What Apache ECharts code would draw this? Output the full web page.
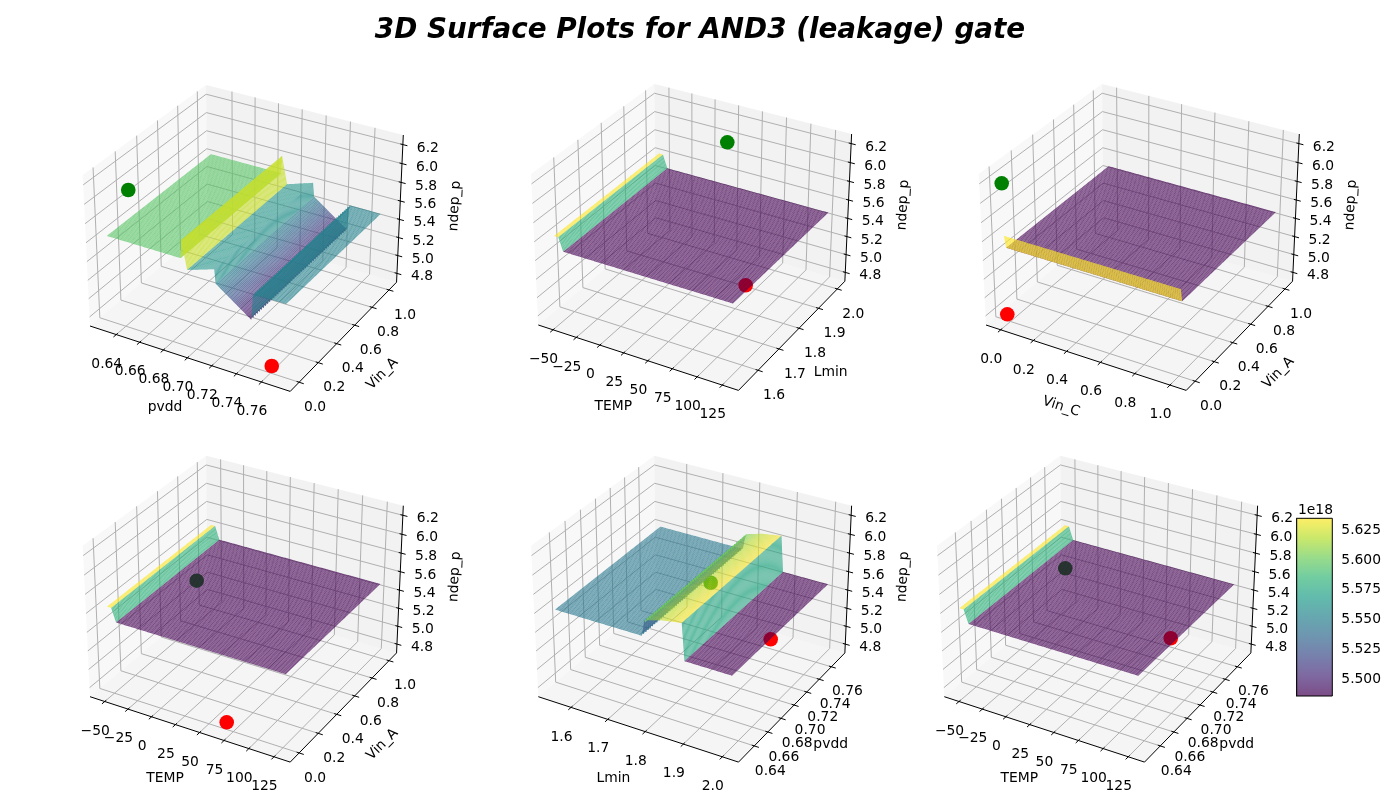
<!DOCTYPE html>
<html><head><meta charset="utf-8">
<style>html,body{margin:0;padding:0;background:#fff}#c{width:1400px;height:800px}</style>
<script src="https://cdn.jsdelivr.net/npm/echarts@6/dist/echarts.min.js"></script></head>
<body><div id="c"></div><script>
const figureTitle='3D Surface Plots for AND3 (leakage) gate';
const zLim=[4.70,6.30];
const zTicks=[4.8,5.0,5.2,5.4,5.6,5.8,6.0,6.2];
const tempLim=[-66,141], tempTicks=[-50,-25,0,25,50,75,100,125];
const tempLabels=['\u221250','\u221225','0','25','50','75','100','125'];
const pvddLim=[0.6173,0.7827], pvddTicks=[0.64,0.66,0.68,0.70,0.72,0.74,0.76];
const lminLim=[1.509,2.041], lminTicks=[1.6,1.7,1.8,1.9,2.0];
const vinLim=[-0.0914,1.0914], vinTicks=[0,0.2,0.4,0.6,0.8,1.0];
const viridis=[[68,1,84],[72,40,120],[62,74,137],[49,104,142],[38,130,142],[31,158,137],[53,183,121],[109,205,89],[180,222,44],[253,231,37]];
const p1X=[0.627,0.6882,0.689,0.6935,0.7155,0.7165,0.7448,0.7463,0.772], p1Z=[5.63,5.63,5.82,5.527,5.62,5.473,5.21,5.484,5.484];
const p1C=[5.66,5.77,5.77,5.53,5.52,null,5.48,5.484];
const p1Teeth=[0.7448,0.7463];
const p2X=[-53.7,-49.26,-44.6,127.3], p2Z=[5.63,5.63,5.49,5.49], p2C=[null,5.58,null];
const p3Y=[-0.01,0.005,1.02], p3Z=[5.63,5.49,5.49], p3C=[5.63,null];
const p5X=[1.545,1.7755,1.7831,1.8261,1.8787,1.8853,2.005], p5Z=[5.62,5.62,5.79,5.84,5.875,5.49,5.49], p5C=[5.645,5.6,null,null,5.72,null];
const p5Teeth=[1.7755,1.7831];
const pvddRange=[0.627,0.772], tempRange=[-53.7,127.3], vinXRange=[-0.012,1.01], vinRange=[-0.005,1.02], lminRange=[1.543,2.007];
const redPoints=[[0.7632,-0.0291,4.82],[72.73,1.862,4.82],[0.0069,-0.0364,4.82],[71.39,-0.0297,4.82],[1.8788,0.7586,4.82],[72.13,0.7577,4.82]];
const greenPoints=[[0.6468,-0.0072,6.18],[41.21,1.9115,6.18],[-0.0097,-0.014,6.18],[40.57,-0.0103,6.18],[1.9116,0.6485,6.18],[39.94,0.6484,6.18]];
const deg=Math.PI/180, el=30*deg, az=-60*deg;
const asp=[4,4,3], nrm=Math.hypot(...asp), box=asp.map(a=>a*1.8294640721620434*25/24/nrm);
const R=box.map(b=>b/2), w=[Math.cos(el)*Math.cos(az),Math.cos(el)*Math.sin(az),Math.sin(el)];
const E=R.map((r,i)=>r+10*w[i]);
const cross=(a,b)=>[a[1]*b[2]-a[2]*b[1],a[2]*b[0]-a[0]*b[2],a[0]*b[1]-a[1]*b[0]];
const dot3=(a,b)=>a[0]*b[0]+a[1]*b[1]+a[2]*b[2];
let u=cross([0,0,1],w); const un=Math.hypot(...u); u=u.map(v=>v/un); const v_=cross(w,u);
function unit(n){const p=[n[0]*box[0]-E[0],n[1]*box[1]-E[1],n[2]*box[2]-E[2]];const d=-dot3(w,p);return [dot3(u,p)/d,dot3(v_,p)/d];}
const ua=unit([0,0,0]),ud=unit([1,1,1]);
const boxW=313.3,boxH=-191;
const sx=boxW/(ud[0]-ua[0]),sy=boxH/(ud[1]-ua[1]);
const anchors=[[90,326],[538.3,325],[986,325],[90,696.7],[538.3,696.7],[944.3,696.7]];
const panels=[
 {xn:'pvdd',yn:'Vin_A',xl:pvddLim,yl:vinLim,xt:pvddTicks,yt:vinTicks,xf:v=>v.toFixed(2),yf:v=>v.toFixed(1),along:'x',b:p1X,z:p1Z,c:p1C,o:pvddRange,q:vinRange,teeth:p1Teeth,amp:0.12},
 {xn:'TEMP',yn:'Lmin',xl:tempLim,yl:lminLim,xt:tempTicks,yt:lminTicks,xLab:tempLabels,yf:v=>v.toFixed(1),along:'x',b:p2X,z:p2Z,c:p2C,o:tempRange,q:lminRange},
 {xn:'Vin_C',yn:'Vin_A',xl:vinLim,yl:vinLim,xt:vinTicks,yt:vinTicks,xf:v=>v.toFixed(1),yf:v=>v.toFixed(1),along:'y',b:p3Y,z:p3Z,c:p3C,o:vinXRange,q:vinRange},
 {xn:'TEMP',yn:'Vin_A',xl:tempLim,yl:vinLim,xt:tempTicks,yt:vinTicks,xLab:tempLabels,yf:v=>v.toFixed(1),along:'x',b:p2X,z:p2Z,c:p2C,o:tempRange,q:vinRange},
 {xn:'Lmin',yn:'pvdd',xl:lminLim,yl:pvddLim,xt:lminTicks,yt:pvddTicks,xf:v=>v.toFixed(1),yf:v=>v.toFixed(2),along:'x',b:p5X,z:p5Z,c:p5C,o:[p5X[0],p5X[6]],q:pvddRange,teeth:p5Teeth,amp:0.2},
 {xn:'TEMP',yn:'pvdd',xl:tempLim,yl:pvddLim,xt:tempTicks,yt:pvddTicks,xLab:tempLabels,yf:v=>v.toFixed(2),along:'x',b:p2X,z:p2Z,c:p2C,o:tempRange,q:pvddRange}];
panels.forEach((P,i)=>{P.i=i;P.ox=anchors[i][0]-sx*ua[0];P.oy=anchors[i][1]-sy*ua[1];});
function pr(P,x,y,z){const n=[(x-P.xl[0])/(P.xl[1]-P.xl[0]),(y-P.yl[0])/(P.yl[1]-P.yl[0]),(z-zLim[0])/(zLim[1]-zLim[0])];const q=unit(n);return [P.ox+sx*q[0],P.oy+sy*q[1]];}
function vir(t){t=Math.max(0,Math.min(1,t))*(viridis.length-1);const i=Math.min(viridis.length-2,Math.floor(t)),f=t-i;return viridis[i].map((c,k)=>Math.round(c+(viridis[i+1][k]-c)*f));}
function rgba(c,a){return `rgba(${c[0]},${c[1]},${c[2]},${a})`;}
const cellCount=98;
function subdivide(b,lo,hi){const step=(hi-lo)/cellCount,out=[b[0]];for(let i=1;i<b.length;i++){const n=Math.max(1,Math.round((b[i]-b[i-1])/step));for(let k=1;k<=n;k++)out.push(b[i-1]+(b[i]-b[i-1])*k/n);}return out;}
function zAt(P,t){const b=P.b;if(t<=b[0])return [P.z[0],0];for(let i=0;i<b.length-1;i++){if(t<=b[i+1]+1e-12){const f=(t-b[i])/(b[i+1]-b[i]);return [P.z[i]+(P.z[i+1]-P.z[i])*f,i];}}return [P.z[P.z.length-1],b.length-2];}
const FONT='13.89px "DejaVu Sans"';
function buildFrame(P){
 const it=[];const [x0,x1]=P.xl,[y0,y1]=P.yl,[z0,z1]=zLim;const g='#b0b0b0';
 const poly=(pts,fill)=>it.push({t:'poly',pts:pts.map(p=>pr(P,...p)),fill});
 poly([[x0,y0,z0],[x0,y1,z0],[x0,y1,z1],[x0,y0,z1]],'rgba(242,242,242,0.5)');
 poly([[x0,y1,z0],[x1,y1,z0],[x1,y1,z1],[x0,y1,z1]],'rgba(230,230,230,0.5)');
 poly([[x0,y0,z0],[x1,y0,z0],[x1,y1,z0],[x0,y1,z0]],'rgba(236,236,236,0.5)');
 const ln=(a,b,c,w)=>it.push({t:'line',a:pr(P,...a),b:pr(P,...b),c,w});
 const tx=(pos,s,rot)=>it.push({t:'text',pos,s,rot:rot||0});
 P.xt.forEach(x=>{ln([x,y0,z0],[x,y1,z0],g,1);ln([x,y1,z0],[x,y1,z1],g,1);});
 P.yt.forEach(y=>{ln([x0,y,z0],[x1,y,z0],g,1);ln([x0,y,z0],[x0,y,z1],g,1);});
 zTicks.forEach(z=>{ln([x0,y0,z],[x0,y1,z],g,1);ln([x0,y1,z],[x1,y1,z],g,1);});
 ln([x0,y0,z0],[x1,y0,z0],'#000',1);ln([x1,y0,z0],[x1,y1,z0],'#000',1);ln([x1,y1,z0],[x1,y1,z1],'#000',1);
 const dx=x1-x0,dy=y1-y0;
 P.xt.forEach((x,i)=>{ln([x,y0+dy*0.012,z0],[x,y0-dy*0.022,z0],'#000',1);const q=pr(P,x,y0,z0);tx([q[0]-9.5,q[1]+29.5],P.xLab?P.xLab[i]:P.xf(x));});
 P.yt.forEach(y=>{ln([x1-dx*0.012,y,z0],[x1+dx*0.022,y,z0],'#000',1);const q=pr(P,x1,y,z0);tx([q[0]+16,q[1]+25],P.yf(y));});
 zTicks.forEach(z=>{ln([x1-dx*0.012,y1,z],[x1+dx*0.022,y1,z],'#000',1);const q=pr(P,x1,y1,z);tx([q[0]+25,q[1]+3.5],z.toFixed(1));});
 const a=pr(P,x0,y0,z0),c=pr(P,x1,y0,z0),d=pr(P,x1,y1,z0),e=pr(P,x1,y1,z1);
 const mid=(p,q)=>[(p[0]+q[0])/2,(p[1]+q[1])/2];
 let m=mid(a,c);tx([m[0]-25,m[1]+49],P.xn,P.xn.length>4?-18*deg:0);
 m=mid(c,d);tx([m[0]+39,m[1]+37],P.yn,P.yn.length>4?45*deg:0);
 m=mid(d,e);tx([m[0]+55,m[1]-2.5],'ndep_p',87*deg);
 return it;
}
function buildSurface(P){
 const it=[];const vmin=Math.min(...P.z),vmax=Math.max(...P.z);
 const xs=P.along==='x'?subdivide(P.b,P.o[0],P.o[1]):subdivide(P.o,P.o[0],P.o[1]);
 const ys=P.along==='y'?subdivide(P.b,P.q[0],P.q[1]):subdivide(P.q,P.q[0],P.q[1]);
 const teethAt=x=>{if(!P.teeth)return -1;return P.teeth.findIndex(t=>Math.abs(t-x)<1e-9);};
 const H=(x,y,j)=>{
  if(P.along!=='x')return zAt(P,y)[0];
  const base=zAt(P,x)[0],k=teethAt(x);
  if(k<0||j%2===0)return base;
  const other=P.teeth[1-k];
  return base+(zAt(P,other)[0]-base)*P.amp;
 };
 for(let i=0;i<xs.length-1;i++)for(let j=ys.length-2;j>=0;j--){
  const c=[[xs[i],ys[j],j],[xs[i+1],ys[j],j],[xs[i+1],ys[j+1],j+1],[xs[i],ys[j+1],j+1]].map(p=>[p[0],p[1],H(p[0],p[1],p[2])]);
  const seg=zAt(P,P.along==='x'?(xs[i]+xs[i+1])/2:(ys[j]+ys[j+1])/2)[1];
  const cv=P.c[seg]!=null?P.c[seg]:(c[0][2]+c[1][2]+c[2][2]+c[3][2])/4;
  it.push({t:'poly',pts:c.map(p=>pr(P,...p)),fill:rgba(vir((cv-vmin)/(vmax-vmin)),0.7)});
 }
 return it;
}
function buildDots(P){
 const r=redPoints[P.i],g=greenPoints[P.i];
 return [{t:'dot',c:pr(P,...r),col:'#ff0000'},{t:'dot',c:pr(P,...g),col:'#008000'}];
}
function renderPrim(items){return function(params,api){
 const o=items[params.dataIndex];
 const C=p=>api.coord(p);
 if(o.t==='poly')return {type:'polygon',silent:true,shape:{points:o.pts.map(C)},style:{fill:o.fill}};
 if(o.t==='line'){const a=C(o.a),b=C(o.b);return {type:'line',silent:true,shape:{x1:a[0],y1:a[1],x2:b[0],y2:b[1]},style:{stroke:o.c,lineWidth:o.w}};}
 if(o.t==='dot'){const c=C(o.c);return {type:'circle',silent:true,shape:{cx:c[0],cy:c[1],r:7.3},style:{fill:o.col}};}
 const c=C(o.pos);return {type:'text',silent:true,x:c[0],y:c[1],rotation:o.rot,style:{text:o.s,font:FONT,fill:'#000',align:'center',verticalAlign:'middle'}};
};}
const series=[];
function addLayer(items,name,z){series.push({type:'custom',name,coordinateSystem:'cartesian2d',xAxisIndex:0,yAxisIndex:0,clip:false,silent:true,animation:false,progressive:0,z,data:items.map((_,i)=>[i]),encode:{x:-1,y:-1},renderItem:renderPrim(items),tooltip:{show:false}});}
panels.forEach(P=>{addLayer(buildFrame(P),'frame'+P.i,2);addLayer(buildDots(P),'points'+P.i,3);addLayer(buildSurface(P),'surface'+P.i,4);});
const cbMin=5.486,cbMax=5.635,cbTicks=[5.5,5.525,5.55,5.575,5.6,5.625];
series.push({type:'custom',name:'colorbar',coordinateSystem:'cartesian2d',xAxisIndex:1,yAxisIndex:1,animation:false,silent:true,data:[[0]],encode:{x:-1,y:-1},z:5,renderItem:(p,api)=>{
 const a=api.coord([0,cbMax]),b=api.coord([1,cbMin]);
 const shape={x:a[0],y:a[1],width:b[0]-a[0],height:b[1]-a[1]};
 return {type:'group',children:[{type:'rect',shape,style:{fill:'#fff'}},{type:'rect',shape,style:{fill:new echarts.graphic.LinearGradient(0,1,0,0,viridis.map((c,i)=>({offset:i/(viridis.length-1),color:rgba(c,0.7)})))}}]};
}});
const chart=echarts.init(document.getElementById('c'),null,{width:1400,height:800,renderer:'canvas'});
chart.setOption({animation:false,backgroundColor:'#fff',
 title:{text:figureTitle,left:'center',top:12,textStyle:{fontFamily:'DejaVu Sans',fontWeight:'bold',fontStyle:'italic',fontSize:27.8,color:'#000'}},
 tooltip:{show:false},
 graphic:[{type:'text',left:1298,top:503,style:{text:'1e18',font:FONT,fill:'#000'}}],
 grid:[{left:0,top:0,width:1400,height:800,show:false},{left:1296.7,top:518.3,width:35.6,height:177.7,show:true,borderColor:'#000',borderWidth:1,backgroundColor:'transparent',z:6}],
 xAxis:[{type:'value',min:0,max:1400,show:false,gridIndex:0},{type:'value',min:0,max:1,show:false,gridIndex:1}],
 yAxis:[{type:'value',min:0,max:800,inverse:true,show:false,gridIndex:0},
  {type:'value',min:cbMin,max:cbMax,gridIndex:1,position:'right',splitLine:{show:false},axisLine:{show:true,lineStyle:{color:'#000',width:1}},
   axisTick:{show:true,length:4.9,lineStyle:{color:'#000',width:1},customValues:cbTicks},
   axisLabel:{show:true,color:'#000',fontFamily:'DejaVu Sans',fontSize:13.89,margin:9,customValues:cbTicks,formatter:v=>Number(v).toFixed(3)}}],
 series});
</script></body></html>
